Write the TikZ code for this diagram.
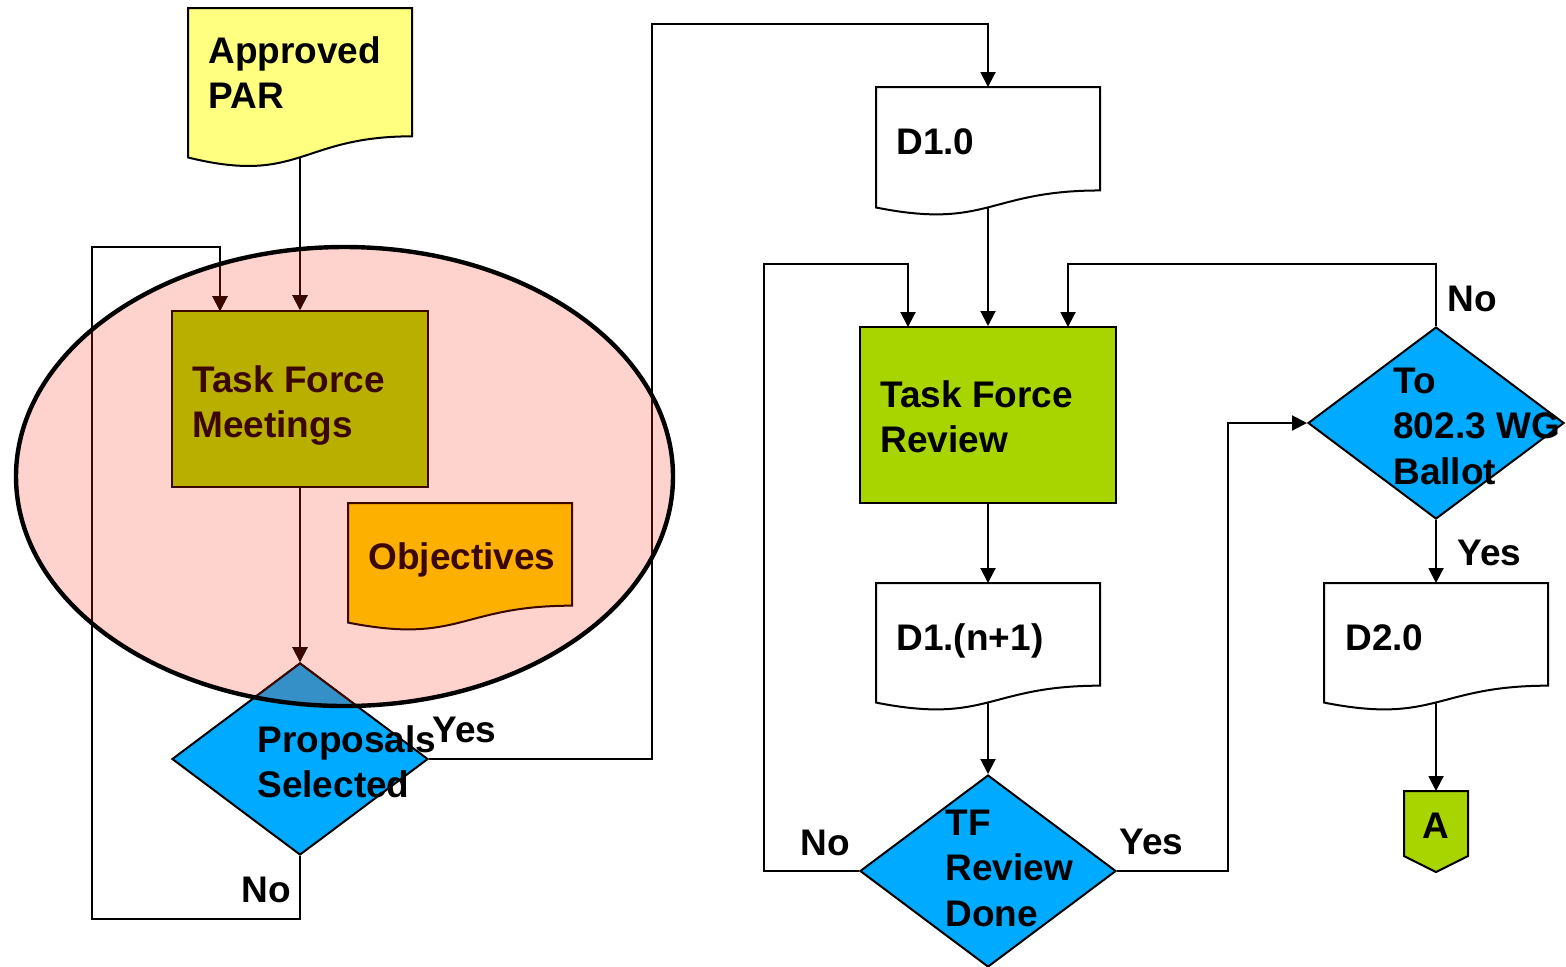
\documentclass[tikz,border=0pt]{standalone}
\usepackage{fontspec}
\setmainfont{Liberation Sans}
\usetikzlibrary{shapes.geometric,arrows.meta}
\definecolor{parY}{HTML}{FFFF80}
\definecolor{pinkE}{HTML}{FFD3CD}
\definecolor{oliveM}{HTML}{B9AF00}
\definecolor{brownD}{HTML}{3A0800}
\definecolor{orangeO}{HTML}{FDB000}
\definecolor{blueD}{HTML}{00AAFF}
\definecolor{blueDk}{HTML}{3590C8}
\definecolor{greenR}{HTML}{A8D400}
\newcommand\tlines[1]{\begin{tabular}[t]{@{}l@{}}#1\end{tabular}}
\newcommand\docshape[6]{%
  \path[#6] (#2,#3) -- ({#2+#4},#3) -- ({#2+#4},{#3+0.802*#5})
    .. controls ({#2+#4/2},{#3+0.802*#5}) and ({#2+#4/2},{#3+1.1075*#5}) .. (#2,{#3+0.934*#5}) -- cycle;
  \coordinate (#1-t) at ({#2+#4/2},#3);
  \coordinate (#1-b) at ({#2+#4/2},{#3+0.933*#5});
}
\begin{document}
\begin{tikzpicture}[x=0.5pt,y=-0.5pt,
  conn/.style={line width=1pt,-{Triangle[width=7.5pt,length=7.5pt]}},
  lbl/.style={inner sep=0pt,anchor=base west,font=\bfseries\fontsize{18.5}{22.75}\selectfont},
  procbox/.style={rectangle,draw,line width=1pt,inner sep=0pt,minimum width=128pt,minimum height=88pt},
  decision/.style={diamond,draw,line width=1pt,inner sep=0pt,fill=blueD,minimum width=128pt,minimum height=96pt},
  docline/.style={draw,line width=1pt}
]
\useasboundingbox (0,0) rectangle (1566,966);

% ellipse background
\path[fill=pinkE] (344.5,476.5) ellipse [x radius=164.25pt, y radius=114.75pt];

% named coordinates for free ends
\coordinate (lpB) at (92,919);
\coordinate (lpT) at (92,247);
\coordinate (tfmIn) at (220,311);
\coordinate (yesUp) at (652,24);
\coordinate (noL) at (764,264);
\coordinate (tfrIn1) at (908,327);
\coordinate (yesR) at (1228,423);
\coordinate (noT) at (1068,264);
\coordinate (tfrIn2) at (1068,327);

% nodes (shapes)
\node[procbox,fill=oliveM,draw=brownD] (tfm) at (300,399) {};
\node[procbox,fill=greenR] (tfr) at (988,415) {};
\node[decision] (prop) at (300,759) {};
\node[decision] (tfrd) at (988,871) {};
\node[decision] (ball) at (1436,423) {};

\newcommand\myconns[1]{%
  \draw[conn,#1] (par-b) -- (tfm.north);
  \draw[conn,#1] (prop.south) |- (lpB) -- (lpT) -| (tfmIn);
  \draw[conn,#1] (tfm.south) -- (prop.north);
  \draw[conn,#1] (prop.east) -| (yesUp) -| (d10-t);
}

\docshape{par}{188}{8}{224}{160}{fill=parY,docline}
\docshape{obj}{348}{503}{224}{128}{fill=orangeO,docline,draw=brownD}
\docshape{d10}{876}{87}{224}{129}{fill=white,docline}
\docshape{d1n}{876}{583}{224}{128}{fill=white,docline}
\docshape{d2}{1324}{583}{224}{128}{fill=white,docline}
\path[fill=greenR,docline] (1404,791) -- (1468,791) -- (1468,856) -- (1436,872) -- (1404,856) -- cycle;
\coordinate (A-t) at (1436,791);

% connectors
\myconns{black}
\draw[conn] (d10-b) -- (tfr.north);
\draw[conn] (tfr.south) -- (d1n-t);
\draw[conn] (d1n-b) -- (tfrd.north);
\draw[conn] (tfrd.west) -| (noL) -| (tfrIn1);
\draw[conn] (tfrd.east) -| (yesR) -- (ball.west);
\draw[conn] (ball.north) |- (noT) -- (tfrIn2);
\draw[conn] (ball.south) -- (d2-t);
\draw[conn] (d2-b) -- (A-t);

% overlay tint inside ellipse
\begin{scope}
  \clip (344.5,476.5) ellipse [x radius=164.25pt, y radius=114.75pt];
  \node[decision,fill=blueDk,draw=brownD] at (300,759) {};
  \myconns{brownD}
\end{scope}
\draw[line width=2.2pt] (344.5,476.5) ellipse [x radius=164.25pt, y radius=114.75pt];

% texts
\node[lbl] (partxt) at (208,63) {\tlines{Approved\\PAR}};
\node[lbl,text=brownD] (tfmtxt) at (192,392) {\tlines{Task Force\\Meetings}};
\node[lbl,text=brownD] (objtxt) at (368,569) {Objectives};
\node[lbl] (proptxt) at (257,752) {\tlines{Proposals\\Selected}};
\node[lbl] (d10txt) at (896,154) {D1.0};
\node[lbl] (tfrtxt) at (880,407) {\tlines{Task Force\\Review}};
\node[lbl] (d1ntxt) at (896,650) {D1.(n+1)};
\node[lbl] (tfrdtxt) at (945,835) {\tlines{TF\\Review\\Done}};
\node[lbl] (balltxt) at (1393,393) {\tlines{To\\802.3 WG\\Ballot}};
\node[lbl] (d2txt) at (1345,650) {D2.0};
\node[lbl,anchor=base] (Atxt) at (1436,838) {A};
\node[lbl] (yes1) at (432,742) {Yes};
\node[lbl] (no1) at (241,902) {No};
\node[lbl] (no2) at (800,855) {No};
\node[lbl] (yes2) at (1119,854) {Yes};
\node[lbl] (no3) at (1447,311) {No};
\node[lbl] (yes3) at (1457,565) {Yes};
\end{tikzpicture}
\end{document}
